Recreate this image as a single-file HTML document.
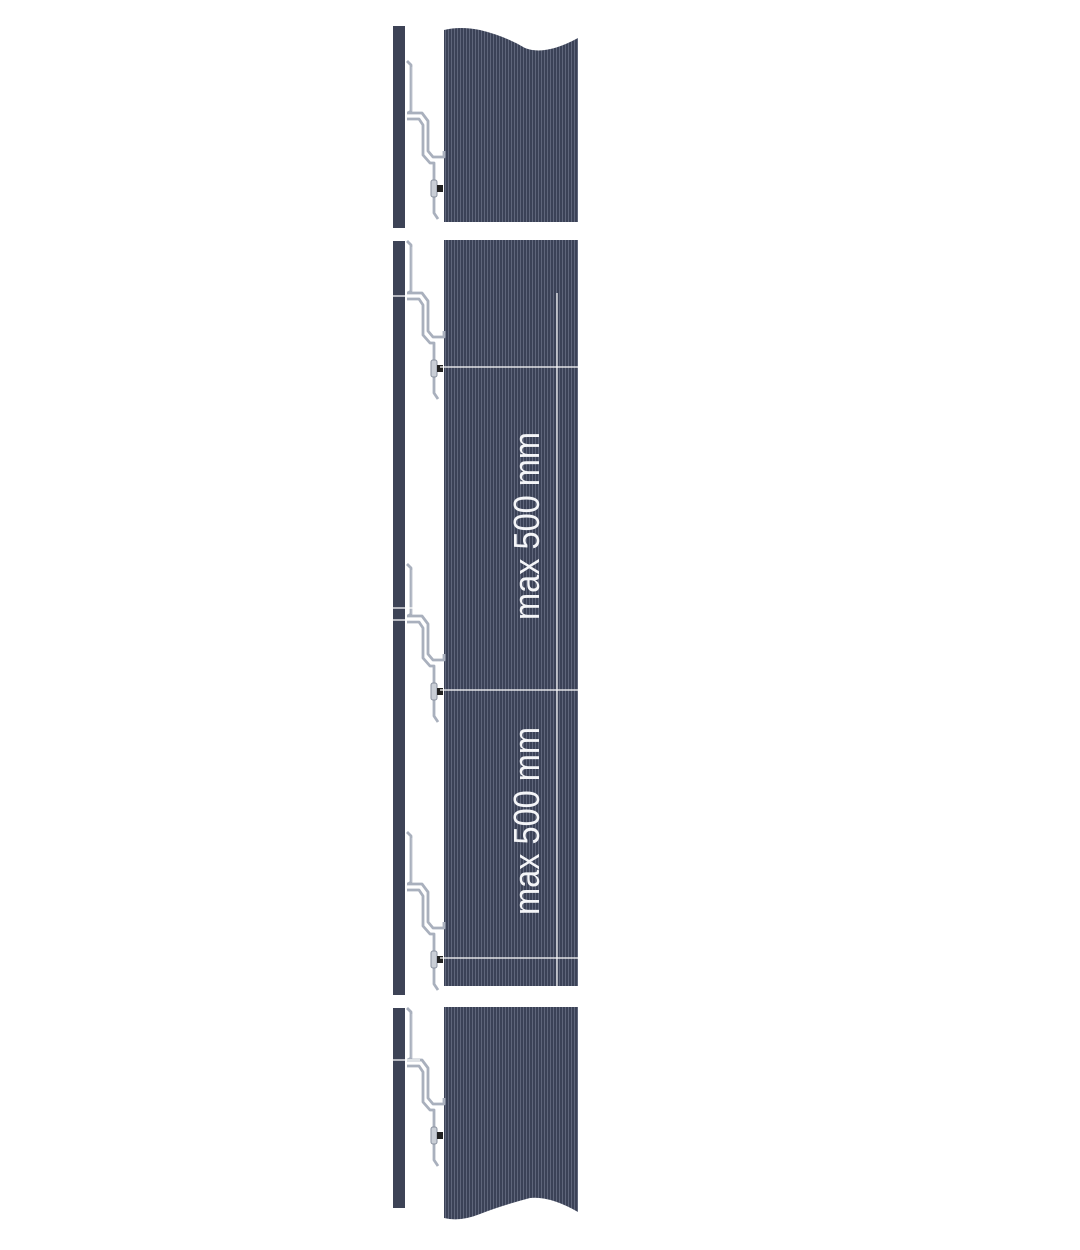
<!DOCTYPE html>
<html><head><meta charset="utf-8"><style>html,body{margin:0;padding:0;background:#fff;width:1080px;height:1250px;overflow:hidden}</style></head>
<body>
<svg width="1080" height="1250" viewBox="0 0 1080 1250" xmlns="http://www.w3.org/2000/svg">
<defs>
<pattern id="st" x="444" y="0" width="3" height="10" patternUnits="userSpaceOnUse">
<rect width="3" height="10" fill="#3b4257"/>
<rect x="1" width="1" height="10" fill="#5f667b"/>
</pattern>
<g id="br" fill="none" stroke="#a9b0bd" stroke-width="2.8" stroke-linejoin="round">
<path d="M407 0 L411 4 L411 50 L408 52"/>
<path d="M412 6 L412 50" stroke="#c4c9d2" stroke-width="1"/>
<path d="M407 52 L422 52 L428 60 L428 90 L433 96 L444 96 L444 90"/>
<path d="M407 58 L419 58 L423 64 L423 94 L430 102 L434 102 L434 152 L438 158"/>
<rect x="431" y="119" width="6" height="17" rx="2" fill="#c9ced6" stroke="#8a92a0" stroke-width="1"/>
<rect x="437" y="124" width="6" height="7" fill="#222" stroke="none"/>
</g>
</defs>
<rect x="393" y="26" width="12" height="202" fill="#3d4356"/>
<rect x="393" y="241" width="12" height="754" fill="#3d4356"/>
<rect x="393" y="1008" width="12" height="200" fill="#3d4356"/>
<path d="M444 30 Q460 26 480 30 Q505 36 525 48 Q545 56 578 38 L578 222 L444 222 Z" fill="url(#st)"/>
<rect x="444" y="240" width="134" height="746" fill="url(#st)"/>
<path d="M444 1007 L578 1007 L578 1212 Q550 1196 530 1198 Q500 1206 480 1214 Q460 1222 444 1218 Z" fill="url(#st)"/>
<use href="#br" y="61"/>
<use href="#br" y="241"/>
<use href="#br" y="564"/>
<use href="#br" y="832"/>
<use href="#br" y="1008"/>
<g stroke="#fff" stroke-width="1.2">
<line x1="557" y1="293" x2="557" y2="986"/>
<line x1="440" y1="367" x2="578" y2="367"/>
<line x1="440" y1="690" x2="578" y2="690"/>
<line x1="440" y1="958" x2="578" y2="958"/>
<line x1="393" y1="296" x2="420" y2="296"/>
<line x1="393" y1="608" x2="420" y2="608"/>
<line x1="393" y1="620" x2="420" y2="620"/>
<line x1="393" y1="1060" x2="420" y2="1060"/>
</g>
<g fill="#f4f5f8" font-family="Liberation Sans, sans-serif" font-size="36">
<text transform="translate(539,620) rotate(-90)" textLength="188" lengthAdjust="spacingAndGlyphs">max 500 mm</text>
<text transform="translate(539,915) rotate(-90)" textLength="188" lengthAdjust="spacingAndGlyphs">max 500 mm</text>
</g>
</svg>
</body></html>
